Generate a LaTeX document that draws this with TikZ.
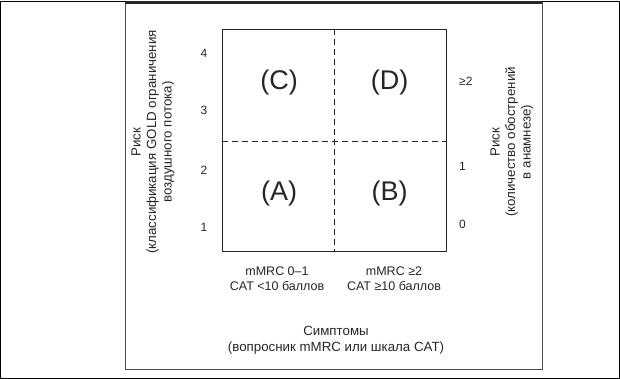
\documentclass[tikz,border=0pt]{standalone}
\usepackage{fontspec}
\setmainfont{Liberation Sans}
\usetikzlibrary{positioning}

\begin{document}
\begin{tikzpicture}[x=1pt, y=-1pt,
    every node/.style={inner sep=0pt, text=black!85, font=\fontsize{12}{15}\selectfont},
    quad/.style={font=\fontsize{27}{30}\selectfont},
    axistitle/.style={align=center, rotate=90, font=\fontsize{13.3}{15.5}\selectfont},
    twoline/.style={align=center, font=\fontsize{12.5}{15}\selectfont}]
        \useasboundingbox (0,0) rectangle (620,379);
        % frames
        \draw[black, line width=0.8pt] (0.5,1) rectangle (619.5,378);
        \draw[black!70, line width=0.8pt] (125,2) rectangle (542,369);
        \draw[black!85, line width=3pt] (125,2.5) -- (542,2.5);

        % matrix
        \coordinate (sw) at (222,251);
        \coordinate (ne) at (446,29);
        \coordinate (midtop) at (334.5,29);
        \coordinate (midbot) at (334.5,251);
        \coordinate (midleft) at (222,141);
        \coordinate (midright) at (446,141);
        \draw[black!85, line width=0.8pt] (sw) rectangle (ne);
        \draw[black!85, line width=0.7pt, dash pattern=on 6pt off 4pt] (midtop) -- (midbot);
        \draw[black!85, line width=0.7pt, dash pattern=on 6pt off 4pt] (midleft) -- (midright);

        \node[quad] (qC) at (279,83) {(C)};
        \node[quad] (qD) at (389.5,83) {(D)};
        \node[quad] (qA) at (279,194) {(A)};
        \node[quad] (qB) at (389.5,194) {(B)};

        % left scale
        \node (l4) at (204,53) {4};
        \node (l3) at (204,110) {3};
        \node (l2) at (204,170) {2};
        \node (l1) at (204,227) {1};

        % right scale
        \node[anchor=west] (r2) at (459,81) {≥2};
        \node[anchor=west] (r1) at (459,166) {1};
        \node[anchor=west] (r0) at (459,224) {0};

        \node[axistitle] (riskL) at (153,142) {Риск\\(классификация GOLD ограничения\\воздушного потока)};
        \node[axistitle] (riskR) at (512,142) {Риск\\(количество обострений\\в анамнезе)};

        % symptoms
        \node[twoline] (symA) at (277,278.5) {mMRC 0–1\\CAT <10 баллов};
        \node[twoline] (symB) at (394,278.5) {mMRC ≥2\\CAT ≥10 баллов};
        \node[twoline, font=\fontsize{13.3}{16}\selectfont] (symptoms) at (336,340) {Симптомы\\(вопросник mMRC или шкала CAT)};
    \end{tikzpicture}
\end{document}
